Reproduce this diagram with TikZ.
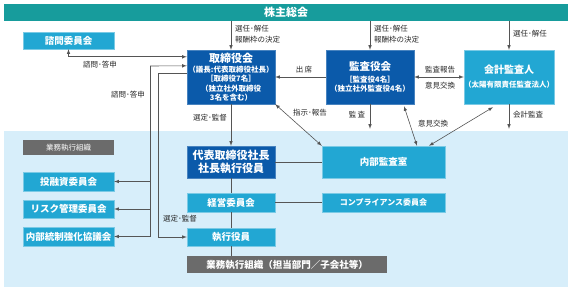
\documentclass[tikz,border=0pt]{standalone}
\usepackage{fontspec}
\setmainfont{Noto Sans CJK JP}
\usetikzlibrary{arrows,calc}
\definecolor{HeadClr}{HTML}{179C9C}
\definecolor{DarkClr}{HTML}{0B5AAA}
\definecolor{BoxClr}{HTML}{22A7D3}
\definecolor{GrayClr}{HTML}{6B6B6B}
\definecolor{AreaClr}{HTML}{D7EEFA}
\definecolor{LineClr}{HTML}{555555}

\begin{document}
\begin{tikzpicture}[x=1pt,y=-1pt,>=latex,
  dark/.style={fill=DarkClr,draw=DarkClr!75!white,text=white,align=center,inner sep=0pt,font=\bfseries\fontsize{7.5}{9}\selectfont},
  light/.style={fill=BoxClr,draw=BoxClr!60!white,text=white,align=center,inner sep=0pt,font=\bfseries\fontsize{9.5}{11}\selectfont},
  grey/.style={fill=GrayClr,text=white,inner sep=0pt,font=\bfseries\fontsize{9.5}{11}\selectfont},
  conn/.style={draw=LineClr,line width=.6pt},
  lbl/.style={font=\fontsize{7.5}{10.5}\selectfont,text=black!85,inner sep=0pt,align=left}]

\useasboundingbox (0,0) rectangle (572,291);

\node[fill=AreaClr,minimum width=564pt,minimum height=156pt,inner sep=0pt] (area) at (286,209) {};
\node[fill=HeadClr,text=white,minimum width=564pt,minimum height=17pt,inner sep=0pt,font=\bfseries\fontsize{11}{12}\selectfont] (gm) at (286,12.5) {株主総会};

\node[light,minimum width=91pt,minimum height=17pt] (advisory) at (68.5,40.5) {諮問委員会};
\node[dark,minimum width=88pt,minimum height=54pt] (board) at (231,77)
  {{\fontsize{11}{13}\selectfont 取締役会}\\[1pt]（議長:代表取締役社長）\\[.5pt]［取締役7名］\\[.5pt]（独立社外取締役\\[.5pt]3名を含む）};
\node[dark,minimum width=88pt,minimum height=54pt] (auditors) at (370,77)
  {{\fontsize{10.5}{13}\selectfont 監査役会}\\[3pt]［監査役4名］\\[.5pt]（独立社外監査役4名）};
\node[light,minimum width=88pt,minimum height=54pt] (accountant) at (509,77)
  {{\fontsize{10}{12}\selectfont 会計監査人}\\[3pt]{\fontsize{7.5}{9}\selectfont（太陽有限責任監査法人）}};

\node[grey,minimum width=91pt,minimum height=15pt,font=\fontsize{7.5}{9}\selectfont] (execorg) at (68.5,147.5) {業務執行組織};
\node[light,minimum width=91pt,minimum height=19pt] (invest) at (68.5,181.5) {投融資委員会};
\node[light,minimum width=91pt,minimum height=18pt] (risk) at (68.5,209) {リスク管理委員会};
\node[light,minimum width=91pt,minimum height=19pt] (control) at (68.5,236.5) {内部統制強化協議会};

\node[dark,minimum width=88pt,minimum height=32pt,font=\bfseries\fontsize{11}{13}\selectfont] (president) at (231,162) {代表取締役社長\\社長執行役員};
\node[light,minimum width=88pt,minimum height=19pt] (mgmt) at (231,202.5) {経営委員会};
\node[light,minimum width=88pt,minimum height=18pt] (officers) at (231,237) {執行役員};
\node[grey,minimum width=200pt,minimum height=17pt] (divisions) at (287,264.5) {業務執行組織（担当部門／子会社等）};

\node[light,minimum width=123pt,minimum height=32pt] (internal) at (383.5,162) {内部監査室};
\node[light,minimum width=123pt,minimum height=19pt,font=\bfseries\fontsize{8}{10}\selectfont] (compliance) at (383.5,202.5) {コンプライアンス委員会};

\coordinate (advin) at ($(board.north west)+(0,7)$);
\coordinate (ansin) at ($(board.north west)+(0,16)$);
\coordinate (selin) at ($(board.north west)+(0,24)$);
\coordinate (spine) at (150,66);

\draw[conn,->] (board.north |- gm.south) -- (board.north);
\draw[conn,->] (auditors.north |- gm.south) -- (auditors.north);
\draw[conn,->] (accountant.north |- gm.south) -- (accountant.north);

\draw[conn,<->] (advisory.south) |- (advin);
\draw[conn,->] (spine) -- (ansin);
\draw[conn] (spine) -- (control.east -| spine);
\draw[conn,->] (invest.east -| spine) -- (invest.east);
\draw[conn,->] (risk.east -| spine) -- (risk.east);
\draw[conn,->] (control.east -| spine) -- (control.east);
\draw[conn,->] (selin) -| ($(officers.west)+(-29,0)$) -- (officers.west);

\draw[conn,->] (board) -- (president);
\draw[conn] (president) -- (mgmt) -- (officers) -- (officers.south |- divisions.north);
\draw[conn] (president) -- (internal);
\draw[conn] (mgmt) -- (compliance);

\draw[conn,->] (auditors.west) -- (board.east);
\draw[conn,<->] (auditors.east) -- (accountant.west);
\draw[conn,->] (auditors.south) -- ($(auditors.south |- area.north)+(0,-2)$);
\draw[conn,->] (accountant.south) -- ($(accountant.south |- area.north)+(0,-2)$);
\draw[conn,<->] (board.south east) -- (internal.north west);
\draw[conn,<->] ($(auditors.south)+(34,2)$) -- ($(internal.north)+(33.5,0)$);
\draw[conn,<->] ($(accountant.south)+(-16,3)$) -- ($(internal.north)+(45.5,0)$);

\node[lbl,anchor=west] (l1) at (235,34) {選任･解任\\報酬枠の決定};
\node[lbl,anchor=west] (l2) at (374,34) {選任･解任\\報酬枠の決定};
\node[lbl,anchor=west] (l3) at (513,34) {選任･解任};
\node[lbl] (l4) at (100,65) {諮問･答申};
\node[lbl] (l5) at (128,95) {諮問･答申};
\node[lbl] (l6) at (210,118) {選定･監督};
\node[lbl] (l7) at (180,219) {選定･監督};
\node[lbl] (l8) at (304,70) {出\,席};
\node[lbl] (l9) at (440,70) {監査報告};
\node[lbl] (l10) at (440,86) {意見交換};
\node[lbl] (l11) at (310,113) {指示･報告};
\node[lbl] (l12) at (357,115) {監\,査};
\node[lbl] (l13) at (433,124) {意見交換};
\node[lbl] (l14) at (528,115) {会計監査};

\end{tikzpicture}
\end{document}
